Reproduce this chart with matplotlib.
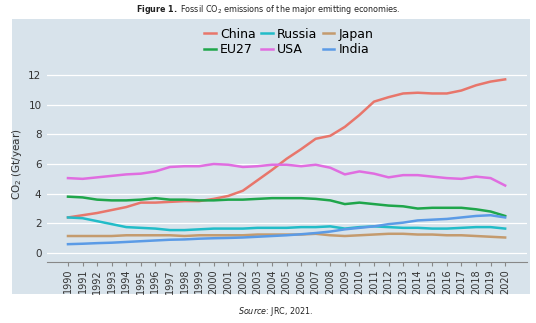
import matplotlib
matplotlib.use("Agg")
import matplotlib.pyplot as plt
from matplotlib.patches import Rectangle

years = list(range(1990, 2021))
china = [2.4, 2.55, 2.7, 2.9, 3.1, 3.4, 3.4, 3.45, 3.5, 3.5, 3.65, 3.85, 4.2, 4.9, 5.6,
         6.35, 7.0, 7.7, 7.9, 8.5, 9.3, 10.2, 10.5, 10.75, 10.8, 10.75, 10.75, 10.95, 11.3, 11.55, 11.7]
usa = [5.05, 5.0, 5.1, 5.2, 5.3, 5.35, 5.5, 5.8, 5.85, 5.85, 6.0, 5.95, 5.8, 5.85, 5.95,
       5.95, 5.85, 5.95, 5.75, 5.3, 5.5, 5.35, 5.1, 5.25, 5.25, 5.15, 5.05, 5.0, 5.15, 5.05, 4.55]
eu27 = [3.8, 3.75, 3.6, 3.55, 3.55, 3.6, 3.7, 3.6, 3.6, 3.55, 3.55, 3.6, 3.6, 3.65, 3.7,
        3.7, 3.7, 3.65, 3.55, 3.3, 3.4, 3.3, 3.2, 3.15, 3.0, 3.05, 3.05, 3.05, 2.95, 2.8, 2.5]
russia = [2.4, 2.35, 2.15, 1.95, 1.75, 1.7, 1.65, 1.55, 1.55, 1.6, 1.65, 1.65, 1.65, 1.7, 1.7,
          1.7, 1.75, 1.75, 1.8, 1.65, 1.75, 1.8, 1.75, 1.7, 1.7, 1.65, 1.65, 1.7, 1.75, 1.75, 1.65]
japan = [1.15, 1.15, 1.15, 1.15, 1.2, 1.2, 1.2, 1.2, 1.15, 1.2, 1.2, 1.2, 1.2, 1.25, 1.25,
         1.25, 1.25, 1.3, 1.2, 1.15, 1.2, 1.25, 1.3, 1.3, 1.25, 1.25, 1.2, 1.2, 1.15, 1.1, 1.05]
india = [0.6, 0.63, 0.67, 0.7, 0.75, 0.8, 0.85, 0.9, 0.92, 0.97, 1.0, 1.02, 1.05, 1.1, 1.15,
         1.2, 1.27, 1.35, 1.45, 1.6, 1.7, 1.8, 1.95, 2.05, 2.2, 2.25, 2.3, 2.4, 2.5, 2.55, 2.4]

series = [("China", china, "#e8766b"), ("EU27", eu27, "#1fa64b"),
          ("Russia", russia, "#22bcc8"), ("USA", usa, "#e06de0"),
          ("Japan", japan, "#c49b6e"), ("India", india, "#5b9be6")]
y_ticks = [0, 2, 4, 6, 8, 10, 12]

W, H = 536, 323
fig = plt.figure(figsize=(W / 100, H / 100), dpi=100)
fig.patch.set_facecolor("white")
panel = "#d8e3eb"
fig.add_artist(Rectangle((12 / W, 1 - 294 / H), (530 - 12) / W, (294 - 19) / H,
                         transform=fig.transFigure, facecolor=panel, edgecolor="none", zorder=-5))

ax = fig.add_axes([47 / W, 1 - 262 / H, (527 - 47) / W, (262 - 66) / H])
ax.set_zorder(2)
ax.set_facecolor(panel)
for name, vals, col in series:
    ax.plot(years, vals, color=col, lw=1.8, label=name, zorder=3)

ax.set_xlim(1988.56, 2021.5)
ax.set_ylim(-0.6, 12.6)
ax.set_yticks(y_ticks)
ax.set_xticks(years)
ax.set_xticklabels([str(y) for y in years], rotation=90, fontsize=7, color="#333333")
ax.tick_params(axis="y", length=0, labelsize=7.5, labelcolor="#333333", pad=4)
ax.tick_params(axis="x", length=3, color="#888888", pad=2)
ax.grid(axis="y", color="white", lw=0.9)
ax.set_axisbelow(True)
for s in ["top", "right", "left"]:
    ax.spines[s].set_visible(False)
ax.spines["bottom"].set_color("#888888")
ax.spines["bottom"].set_linewidth(0.8)
ax.set_ylabel(r"CO$_2$ (Gt/year)", fontsize=7.5, color="#333333", labelpad=3)

leg = fig.legend(loc="center", bbox_to_anchor=(289 / W, 1 - 42 / H), ncol=3, frameon=False,
                 fontsize=9, handlelength=0.9, handletextpad=0.35, columnspacing=0.45,
                 labelspacing=0.2, borderpad=0)
leg.set_zorder(5)

fig.text(268 / W, 1 - 9 / H,
         r"$\bf{Figure\ 1.}$ Fossil CO$_2$ emissions of the major emitting economies.",
         ha="center", va="center", fontsize=5.8, color="#222222")
fig.text(313 / W, 1 - 312 / H, r"$\it{Source}$: JRC, 2021.", ha="right", va="center",
         fontsize=5.8, color="#222222")

fig.savefig("out.png", dpi=100, facecolor="white")
